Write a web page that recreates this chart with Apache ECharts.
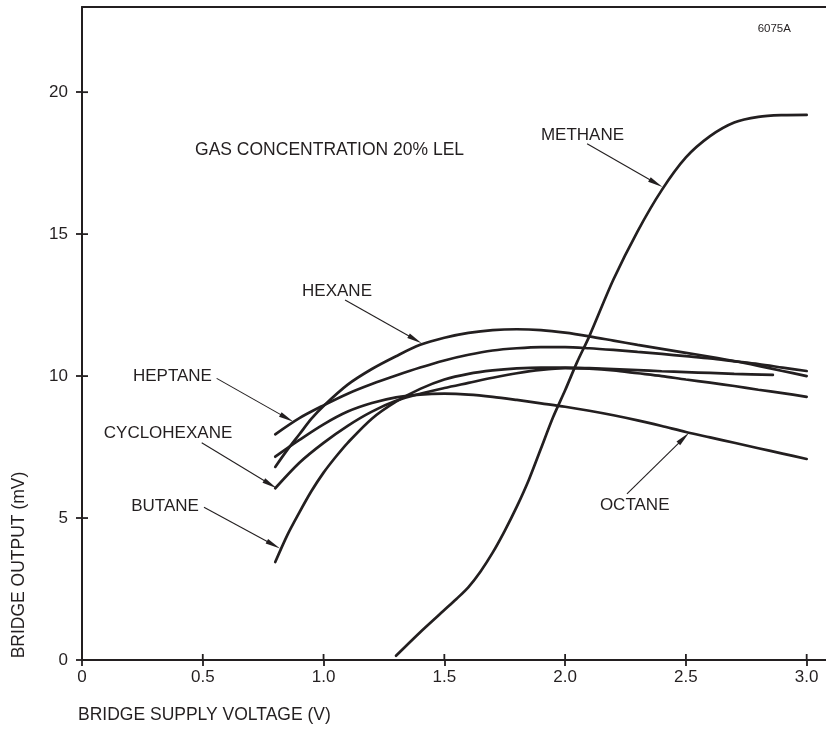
<!DOCTYPE html>
<html><head><meta charset="utf-8">
<script src="https://cdn.jsdelivr.net/npm/echarts@6/dist/echarts.min.js"></script>
<style>html,body{margin:0;padding:0;background:#fff}#c{width:826px;height:729px}</style>
</head><body><div id="c"></div>
<script>
// ---- tick values / labels ----
const xTicks = [0, 0.5, 1, 1.5, 2, 2.5, 3];
const xTickLabels = ['0', '0.5', '1.0', '1.5', '2.0', '2.5', '3.0'];
const yTicks = [0, 5, 10, 15, 20];
const yTickLabels = ['0', '5', '10', '15', '20'];

// ---- series: [supply voltage (V), bridge output (mV)] ----
const methane = [[1.3,0.15],[1.4,0.98],[1.5,1.76],[1.55,2.15],[1.6,2.57],[1.65,3.12],[1.7,3.78],[1.75,4.55],[1.8,5.4],[1.85,6.35],[1.9,7.45],[1.95,8.55],[2.0,9.5],[2.05,10.5],[2.1,11.4],[2.2,13.4],[2.3,15.1],[2.4,16.55],[2.5,17.7],[2.6,18.45],[2.7,18.93],[2.8,19.13],[2.9,19.19],[3.0,19.2]];
const hexane = [[0.8,6.8],[0.85,7.4],[0.9,7.95],[0.95,8.5],[1.0,8.95],[1.1,9.7],[1.2,10.25],[1.3,10.7],[1.4,11.1],[1.5,11.35],[1.6,11.52],[1.7,11.62],[1.8,11.65],[1.9,11.62],[2.0,11.53],[2.1,11.4],[2.2,11.25],[2.3,11.1],[2.4,10.96],[2.5,10.82],[2.6,10.68],[2.7,10.53],[2.8,10.36],[2.9,10.18],[3.0,10.0]];
const heptane = [[0.8,7.95],[0.9,8.52],[1.0,8.97],[1.1,9.38],[1.2,9.72],[1.3,10.02],[1.4,10.3],[1.5,10.55],[1.6,10.75],[1.7,10.9],[1.8,10.98],[1.9,11.02],[2.0,11.02],[2.1,10.98],[2.2,10.92],[2.3,10.85],[2.4,10.78],[2.5,10.7],[2.6,10.62],[2.7,10.52],[2.8,10.42],[2.9,10.3],[3.0,10.18]];
const octane = [[0.8,7.16],[0.9,7.75],[1.0,8.3],[1.1,8.75],[1.2,9.05],[1.3,9.25],[1.4,9.35],[1.5,9.38],[1.6,9.35],[1.7,9.27],[1.8,9.16],[1.9,9.04],[2.0,8.92],[2.1,8.78],[2.2,8.62],[2.3,8.44],[2.4,8.24],[2.5,8.03],[2.6,7.84],[2.7,7.65],[2.8,7.46],[2.9,7.27],[3.0,7.08]];
const butane = [[0.8,3.45],[0.85,4.4],[0.9,5.2],[0.95,5.95],[1.0,6.6],[1.05,7.15],[1.1,7.65],[1.2,8.5],[1.3,9.1],[1.4,9.55],[1.5,9.88],[1.6,10.08],[1.7,10.2],[1.8,10.27],[1.9,10.3],[2.0,10.3],[2.1,10.28],[2.2,10.25],[2.3,10.21],[2.4,10.17],[2.5,10.14],[2.6,10.11],[2.7,10.08],[2.86,10.04]];
const cyclohexane = [[0.8,6.05],[0.9,6.95],[1.0,7.65],[1.1,8.25],[1.2,8.75],[1.3,9.13],[1.4,9.38],[1.5,9.58],[1.6,9.76],[1.7,9.94],[1.8,10.1],[1.9,10.22],[2.0,10.28],[2.1,10.26],[2.2,10.2],[2.3,10.1],[2.4,10.0],[2.5,9.88],[2.6,9.77],[2.7,9.65],[2.8,9.52],[2.9,9.4],[3.0,9.27]];

const seriesNames = ['METHANE', 'HEXANE', 'HEPTANE', 'OCTANE', 'BUTANE', 'CYCLOHEXANE'];
const seriesData = [methane, hexane, heptane, octane, butane, cyclohexane];

// ---- annotations (data coordinates) ----
const labelNames = ['METHANE', 'HEXANE', 'HEPTANE', 'CYCLOHEXANE', 'BUTANE', 'OCTANE'];
const labelAt = [[1.900,18.49],[0.911,13.0],[0.538,9.98],[0.622,8.0],[0.484,5.42],[2.144,5.46]];
const labelAlign = ['left', 'left', 'right', 'right', 'right', 'left'];
const arrowFrom = [[2.091,18.18],[1.089,12.68],[0.5575,9.92],[0.4955,7.65],[0.505,5.38],[2.256,5.85]];
const arrowTo = [[2.403,16.66],[1.406,11.16],[0.875,8.39],[0.806,6.05],[0.820,3.93],[2.513,8.0]];
const noteText = 'GAS CONCENTRATION 20% LEL';
const noteAt = [0.468, 17.96];
const figId = '6075A';
const figIdAt = [2.797, 22.22];

const INK = '#231f20';
const FONT = '"Liberation Sans", Arial, Helvetica, sans-serif';

const chart = echarts.init(document.getElementById('c'), null, {renderer: 'canvas'});

const xBase = {type: 'value', min: 0, max: 3.08, interval: 0.5, splitLine: {show: false}, gridIndex: 0};
const yBase = {type: 'value', min: 0, max: 23, interval: 5, splitLine: {show: false}, gridIndex: 0};

chart.setOption({
  animation: false,
  backgroundColor: '#fff',
  grid: {left: 82, right: 0, top: 7, bottom: 69, containLabel: false},
  xAxis: [
    Object.assign({}, xBase, {
      position: 'bottom',
      axisLine: {show: true, lineStyle: {color: INK, width: 2}},
      axisTick: {show: true, inside: false, length: 6, lineStyle: {color: INK, width: 1.8}, customValues: xTicks},
      axisLabel: {show: true, margin: 9, color: INK, fontSize: 17, fontFamily: FONT, customValues: xTicks,
        formatter: v => { const i = xTicks.findIndex(t => Math.abs(t - v) < 1e-6); return i >= 0 ? xTickLabels[i] : ''; }}
    }),
    Object.assign({}, xBase, {
      position: 'top',
      axisLine: {show: true, onZero: false, lineStyle: {color: INK, width: 2}},
      axisTick: {show: false},
      axisLabel: {show: false}
    })
  ],
  yAxis: [
    Object.assign({}, yBase, {
      position: 'left',
      axisLine: {show: true, lineStyle: {color: INK, width: 2}},
      axisTick: {show: true, inside: false, length: 6, lineStyle: {color: INK, width: 1.8}, customValues: yTicks},
      axisLabel: {show: true, margin: 14, color: INK, fontSize: 17, fontFamily: FONT, customValues: yTicks,
        formatter: v => { const i = yTicks.findIndex(t => Math.abs(t - v) < 1e-6); return i >= 0 ? yTickLabels[i] : ''; }}
    })
  ],
  series: seriesNames.map((n, i) => ({
    name: n, type: 'line', xAxisIndex: 0, yAxisIndex: 0,
    data: seriesData[i], smooth: 0.3,
    showSymbol: false, symbol: 'none',
    lineStyle: {color: INK, width: 2.7, cap: 'round'},
    emphasis: {disabled: true}, silent: true
  }))
});

function toPx(p) { return chart.convertToPixel({gridIndex: 0}, p); }

const graphics = [];
// inner halves of the tick marks (ticks cross the axis lines)
xTicks.forEach(t => {
  const p = toPx([t, 0]);
  graphics.push({type: 'line', silent: true, shape: {x1: p[0], y1: p[1], x2: p[0], y2: p[1] - 6},
    style: {stroke: INK, lineWidth: 1.8}});
});
yTicks.forEach(t => {
  const p = toPx([0, t]);
  graphics.push({type: 'line', silent: true, shape: {x1: p[0], y1: p[1], x2: p[0] + 6, y2: p[1]},
    style: {stroke: INK, lineWidth: 1.8}});
});
labelNames.forEach((name, i) => {
  const p = toPx(labelAt[i]);
  graphics.push({type: 'text', x: p[0], y: p[1], silent: true,
    style: {text: name, align: labelAlign[i], verticalAlign: 'middle', fontSize: 17, fontFamily: FONT, fill: INK}});
  const s = toPx(arrowFrom[i]), e = toPx(arrowTo[i]);
  const dx = e[0] - s[0], dy = e[1] - s[1], L = Math.hypot(dx, dy), ux = dx / L, uy = dy / L;
  const hl = 15, hw = 2.6;
  const bx = e[0] - ux * hl, by = e[1] - uy * hl;
  graphics.push({type: 'line', silent: true, shape: {x1: s[0], y1: s[1], x2: bx + ux * 3, y2: by + uy * 3},
    style: {stroke: INK, lineWidth: 1.1}});
  graphics.push({type: 'polygon', silent: true,
    shape: {points: [[e[0], e[1]], [bx - uy * hw, by + ux * hw], [bx + uy * hw, by - ux * hw]]},
    style: {fill: INK}});
});
const np = toPx(noteAt);
graphics.push({type: 'text', x: np[0], y: np[1], silent: true,
  style: {text: noteText, align: 'left', verticalAlign: 'middle', fontSize: 17.5, fontFamily: FONT, fill: INK}});
const fp = toPx(figIdAt);
graphics.push({type: 'text', x: fp[0], y: fp[1], silent: true,
  style: {text: figId, align: 'left', verticalAlign: 'middle', fontSize: 11.5, fontFamily: FONT, fill: INK}});
// axis titles
graphics.push({type: 'text', x: 78, y: 715, silent: true,
  style: {text: 'BRIDGE SUPPLY VOLTAGE (V)', align: 'left', verticalAlign: 'middle', fontSize: 17.5, fontFamily: FONT, fill: INK}});
graphics.push({type: 'text', x: 19, y: 565, rotation: Math.PI / 2, silent: true,
  style: {text: 'BRIDGE OUTPUT (mV)', align: 'center', verticalAlign: 'middle', fontSize: 17.5, fontFamily: FONT, fill: INK}});

chart.setOption({graphic: graphics});
</script>
</body></html>
